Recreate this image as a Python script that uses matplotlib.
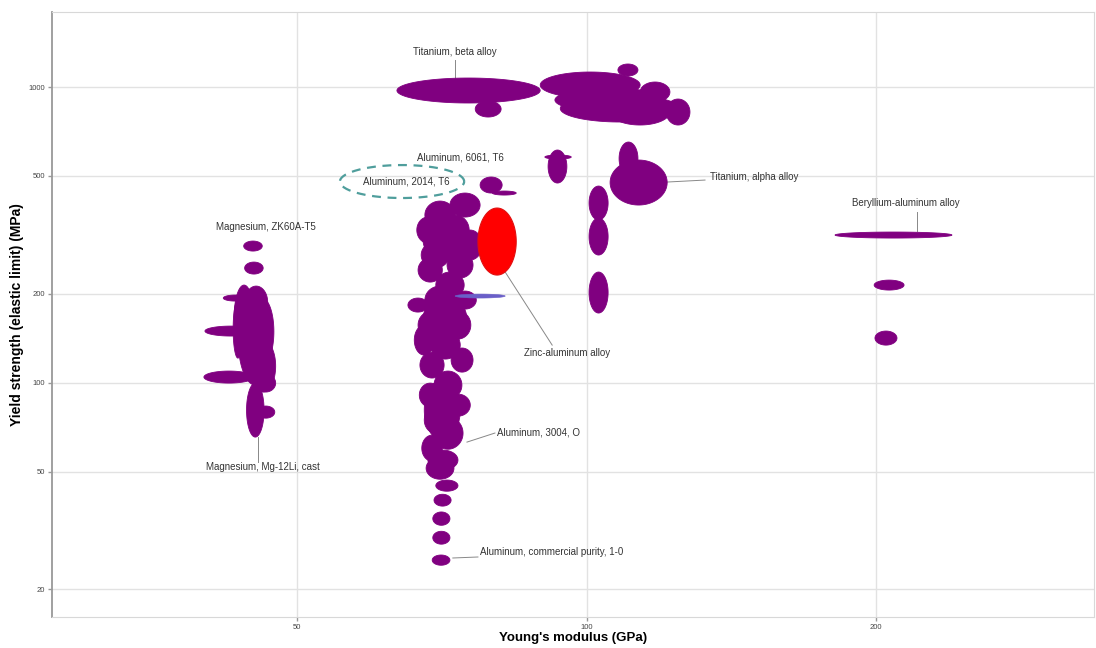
import numpy as np
import matplotlib.pyplot as plt

plt.rcParams["font.family"] = ["Liberation Sans", "DejaVu Sans"]

# each material: (E_lo, E_hi, yield_lo, yield_hi) -> GPa, MPa
magnesium = [
    (43.4, 47.1, 98.1, 205.6),
    (44.0, 46.0, 278.6, 301.2),
    (44.1, 46.1, 232.9, 255.7),
    (41.9, 44.4, 188.7, 197.8),
    (43.0, 45.1, 128.8, 213.8),
    (44.7, 47.3, 114.6, 193.2),
    (44.1, 46.6, 165.3, 212.1),
    (44.7, 47.5, 92.9, 139.2),
    (42.9, 43.9, 121.0, 190.2),
    (45.3, 47.5, 92.9, 106.8),
    (40.1, 45.4, 143.7, 155.3),
    (40.0, 45.1, 99.6, 109.4),
    (44.3, 46.2, 65.4, 99.6),
    (45.4, 47.4, 75.8, 83.3),
]

aluminum = [
    (67.6, 75.1, 259.8, 354.7),
    (67.6, 75.1, 133.9, 197.8),
    (67.8, 73.9, 63.9, 102.0),
    (68.4, 73.5, 50.6, 59.1),
    (72.1, 77.5, 363.1, 437.8),
    (67.9, 73.0, 330.7, 411.3),
    (66.6, 70.2, 296.5, 363.1),
    (70.6, 75.5, 291.9, 368.8),
    (73.5, 77.9, 259.8, 328.2),
    (67.3, 72.0, 244.1, 298.9),
    (71.6, 76.2, 225.8, 276.5),
    (66.8, 70.8, 218.8, 263.8),
    (69.7, 74.6, 193.2, 236.6),
    (65.2, 68.4, 173.2, 193.2),
    (67.9, 73.0, 170.5, 212.1),
    (72.8, 76.8, 177.3, 204.0),
    (66.8, 71.4, 140.4, 174.6),
    (71.3, 75.8, 140.4, 174.6),
    (66.2, 69.4, 123.9, 156.5),
    (68.8, 73.9, 120.1, 149.4),
    (72.3, 76.2, 108.5, 130.9),
    (67.1, 71.1, 103.6, 126.8),
    (69.4, 74.2, 87.9, 109.4),
    (67.0, 70.6, 82.6, 99.6),
    (71.4, 75.7, 77.0, 91.4),
    (67.8, 71.4, 67.5, 82.6),
    (69.2, 74.4, 59.5, 76.4),
    (67.4, 70.8, 54.2, 66.4),
    (68.1, 72.8, 47.1, 55.9),
    (69.7, 73.5, 42.9, 46.8),
    (69.4, 72.3, 38.2, 41.9),
    (69.2, 72.1, 32.9, 36.5),
    (69.2, 72.1, 28.4, 31.4),
    (69.1, 72.1, 24.1, 26.1),
    (77.5, 81.7, 437.8, 496.0),
    (79.8, 84.5, 431.0, 444.7),
]

titanium = [
    (63.5, 89.5, 882.8, 1072.6),
    (76.6, 81.5, 791.5, 896.6),
    (89.5, 113.7, 917.9, 1124.0),
    (92.7, 120.7, 823.0, 992.2),
    (93.9, 125.1, 761.3, 939.6),
    (105.8, 122.1, 743.7, 910.7),
    (107.8, 113.1, 1089.5, 1196.3),
    (121.0, 128.1, 743.7, 910.7),
    (113.7, 122.1, 889.7, 1039.7),
    (91.2, 95.4, 473.3, 612.1),
    (90.5, 96.4, 570.6, 588.7),
    (108.1, 113.1, 503.7, 651.4),
    (105.8, 121.3, 398.7, 566.2),
    (100.6, 105.3, 354.7, 462.3),
    (100.6, 105.3, 270.1, 360.3),
    (100.6, 105.3, 171.9, 236.6),
]

beryllium = [
    (181.3, 239.9, 308.3, 323.1),
    (199.1, 213.9, 205.6, 222.2),
    (199.5, 210.3, 133.9, 149.4),
]

zinc_aluminum = (77.1, 84.5, 231.1, 389.5)
thin_alloy = (73.0, 82.3, 193.2, 199.3)
highlight = (55.4, 74.6, 421.1, 544.5)

x_ticks = [50, 100, 200]
y_ticks = [20, 50, 100, 200, 500, 1000]

# label text, text position (E, yield), alignment, leader line or None
labels = [
    ("Titanium, beta alloy", (73.0, 1313.5), "center", [(73.0, 1234), (73.0, 1073)]),
    ("Aluminum, 6061, T6", (73.9, 579.6), "center", None),
    ("Aluminum, 2014, T6", (64.9, 480.7), "center", None),
    ("Titanium, alpha alloy", (134.4, 496.0), "left", [(121.3, 477.0), (132.8, 484.4)]),
    ("Beryllium-aluminum alloy", (188.8, 405.0), "left", [(220.6, 377.6), (220.6, 326.0)]),
    ("Magnesium, ZK60A-T5", (46.4, 336.0), "center", None),
    ("Magnesium, Mg-12Li, cast", (46.1, 51.8), "center", [(45.5, 65.4), (45.5, 53.8)]),
    ("Zinc-aluminum alloy", (95.4, 125.8), "center", [(82.3, 236.6), (92.1, 133.9)]),
    ("Aluminum, 3004, O", (80.7, 68.0), "left", [(75.1, 62.9), (80.3, 67.5)]),
    ("Aluminum, commercial purity, 1-0", (77.5, 26.7), "left", [(72.6, 25.5), (77.1, 25.7)]),
]


def log_ellipse(rng, n=90):
    e_lo, e_hi, s_lo, s_hi = rng
    t = np.linspace(0, 2 * np.pi, n)
    cx, rx = (np.log(e_lo) + np.log(e_hi)) / 2, (np.log(e_hi) - np.log(e_lo)) / 2
    cy, ry = (np.log(s_lo) + np.log(s_hi)) / 2, (np.log(s_hi) - np.log(s_lo)) / 2
    return np.exp(cx + rx * np.cos(t)), np.exp(cy + ry * np.sin(t))


fig = plt.figure(figsize=(10.96, 6.48), dpi=100)
ax = fig.add_axes([0.0474, 0.0478, 0.9508, 0.9337])
ax.set_xscale("log")
ax.set_yscale("log")
ax.set_xlim(27.8, 337.1)
ax.set_ylim(16.1, 1794)

purple = "#800080"
for group in (magnesium, aluminum, titanium, beryllium):
    for rng in group:
        ex, ey = log_ellipse(rng)
        ax.fill(ex, ey, color=purple, lw=0.6, zorder=3)

ex, ey = log_ellipse(thin_alloy)
ax.fill(ex, ey, color="#6a5fc8", lw=0.4, zorder=3)
ex, ey = log_ellipse(zinc_aluminum)
ax.fill(ex, ey, facecolor="#ff0000", edgecolor="#e01010", lw=0.8, zorder=4)

ex, ey = log_ellipse(highlight, n=200)
ax.plot(ex, ey, color="#4f9e9c", lw=1.6, ls=(0, (4, 3)), zorder=5)

for text, (tx, ty), ha, line in labels:
    ax.text(tx, ty, text, fontsize=7, color="#333333", ha=ha, va="center", zorder=6)
    if line:
        (x0, y0), (x1, y1) = line
        ax.plot([x0, x1], [y0, y1], color="#888888", lw=0.7, zorder=2)

ax.set_xticks(x_ticks)
ax.set_xticklabels([str(v) for v in x_ticks])
ax.set_yticks(y_ticks)
ax.set_yticklabels([str(v) for v in y_ticks])
ax.minorticks_off()
ax.tick_params(labelsize=5.5, labelcolor="#444444", color="#999999", length=3, width=1, pad=2)
ax.grid(True, color="#e2e2e2", lw=1)
ax.set_axisbelow(True)

for side in ("top", "right", "bottom"):
    ax.spines[side].set_color("#d8d8d8")
ax.spines["left"].set_color("#999999")
ax.spines["left"].set_linewidth(1.3)

ax.set_xlabel("Young's modulus (GPa)", fontsize=9.5, fontweight="bold", labelpad=1)
ax.set_ylabel("Yield strength (elastic limit) (MPa)", fontsize=10, fontweight="bold", labelpad=3)

fig.savefig("out.png", dpi=100)
